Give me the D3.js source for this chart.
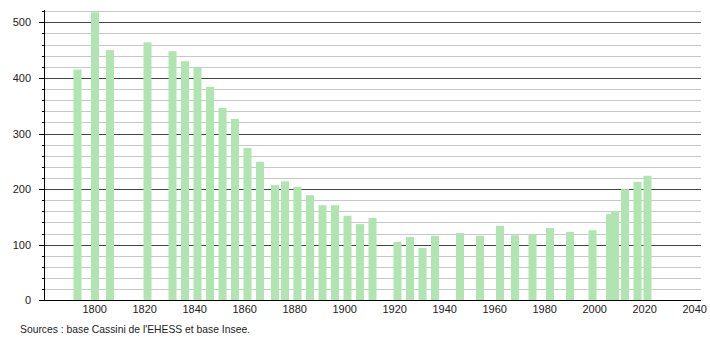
<!DOCTYPE html>
<html>
<head>
  <meta charset="utf-8" />
  <title>Évolution démographique</title>
  <script src="https://cdnjs.cloudflare.com/ajax/libs/d3/7.8.5/d3.min.js"></script>
  <style>
    body { margin: 0; background: #fff; }
    svg text { font-family: "Liberation Sans", Arial, sans-serif; fill: #222; }
  </style>
</head>
<body>
  <svg id="chart" width="710" height="340"></svg>
  <script>
    // census years and population
    const years = [1793, 1800, 1806, 1821, 1831, 1836, 1841, 1846, 1851, 1856,
      1861, 1866, 1872, 1876, 1881, 1886, 1891, 1896, 1901, 1906,
      1911, 1921, 1926, 1931, 1936, 1946, 1954, 1962, 1968, 1975,
      1982, 1990, 1999, 2006, 2008, 2012, 2017, 2021];
    const population = [415, 518, 450, 464, 448, 430, 418, 384, 346, 326,
      274, 249, 207, 214, 204, 189, 171, 171, 152, 137,
      148, 105, 114, 94, 116, 121, 116, 134, 117, 119,
      130, 123, 126, 155, 160, 200, 213, 224];
    const xTicks = [1800, 1820, 1840, 1860, 1880, 1900, 1920, 1940, 1960, 1980, 2000, 2020, 2040];
    const yTicks = [0, 100, 200, 300, 400, 500];
    const source = "Sources : base Cassini de l'EHESS et base Insee.";

    const svg = d3.select("#chart");
    const left = 44, right = 701;

    const x = d3.scaleLinear().domain([1780, 2040]).range([44.7, 694.7]);
    const y = d3.scaleLinear().domain([0, 500]).range([300.3, 22.3]);

    // grid lines every 20, darker every 100
    const grid = d3.range(20, 521, 20);
    svg.append("g").selectAll("line")
      .data(grid)
      .join("line")
      .attr("x1", left).attr("x2", right)
      .attr("y1", d => Math.round(y(d)) + 0.5)
      .attr("y2", d => Math.round(y(d)) + 0.5)
      .attr("stroke", d => d % 100 === 0 ? "#444" : "#c8c8c8")
      .attr("stroke-width", 1);

    // bars
    svg.append("g").selectAll("rect")
      .data(years)
      .join("rect")
      .attr("x", (d) => x(d) - 3.7)
      .attr("width", 8)
      .attr("y", (d, i) => y(population[i]))
      .attr("height", (d, i) => y(0) - y(population[i]))
      .attr("fill", "#b0e4b0");

    // y axis
    const ya = svg.append("g");
    ya.append("line")
      .attr("x1", left + 0.5).attr("x2", left + 0.5)
      .attr("y1", y(520) - 1).attr("y2", y(0))
      .attr("stroke", "#000");
    ya.selectAll(".minor")
      .data(d3.range(0, 521, 20))
      .join("line")
      .attr("x1", d => d % 100 === 0 ? 39 : 42).attr("x2", left)
      .attr("y1", d => Math.round(y(d)) + 0.5)
      .attr("y2", d => Math.round(y(d)) + 0.5)
      .attr("stroke", "#000");
    ya.selectAll("text")
      .data(yTicks)
      .join("text")
      .attr("x", 31)
      .attr("y", d => y(d) + 4)
      .attr("text-anchor", "end")
      .attr("font-size", 11)
      .text(d => d);

    // x axis
    svg.append("line")
      .attr("x1", left).attr("x2", right)
      .attr("y1", Math.round(y(0)) + 0.5).attr("y2", Math.round(y(0)) + 0.5)
      .attr("stroke", "#000");
    svg.append("g").selectAll("text")
      .data(xTicks)
      .join("text")
      .attr("x", d => x(d))
      .attr("y", 313)
      .attr("text-anchor", "middle")
      .attr("font-size", 11)
      .text(d => d);

    svg.append("text")
      .attr("x", 20)
      .attr("y", 333)
      .attr("font-size", 10.5)
      .attr("textLength", 230)
      .attr("lengthAdjust", "spacingAndGlyphs")
      .text(source);
  </script>
</body>
</html>
